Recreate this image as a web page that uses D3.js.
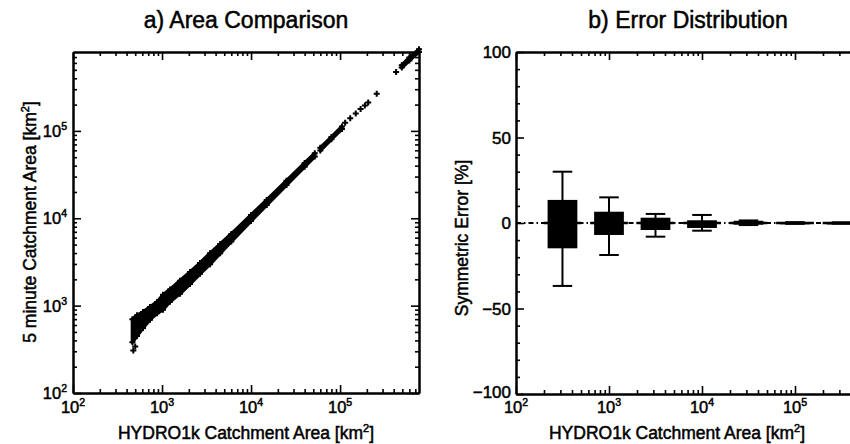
<!DOCTYPE html>
<html>
<head>
<meta charset="UTF-8">
<title>Area Comparison / Error Distribution</title>
<script src="https://d3js.org/d3.v7.min.js"></script>
<style>
    body { margin: 0; background: #fff; }
    svg { display: block; font-family: "Liberation Sans", Arial, sans-serif; }
</style>
</head>
<body>
<script>
    // a) dense scatter band (km2)
    var bandX  = [465, 524, 612, 733, 879, 1026, 1230, 1593, 2063, 2673, 3460, 4500, 6000, 10000, 15000, 25000, 40000, 52000, 56000, 60000, 80000, 105000];
    var bandLo = [380, 450, 555, 690, 820, 900, 1110, 1370, 1770, 2320, 2980, 3980, 5430, 9300, 14200, 24000, 38800, 51000, null, 59500, 80000, 105000];
    var bandHi = [700, 775, 845, 965, 1100, 1330, 1530, 1930, 2430, 3080, 3980, 5070, 6620, 10900, 16200, 26800, 42800, 55500, null, 64000, 85000, 112000];
    var topX   = [493000, 600000, 770000];
    var topLo  = [530000, 640000, 800000];
    var topHi  = [565000, 690000, 860000];
    // a) single crosses
    var ptX = [476, 500, 114000, 130000, 150000, 170000, 190000, 207000, 258000, 426000];
    var ptY = [307, 340, 124000, 140000, 158000, 178000, 195000, 212000, 266000, 472000];

    // b) box plots per area class
    var binArea = [316, 1000, 3162, 10000, 31623, 100000, 316228];
    var q1      = [-14.8, -7.0, -4.1, -2.9, -1.0, -0.4, -0.3];
    var q3      = [13.5, 6.6, 3.1, 1.6, 1.3, 0.4, 0.3];
    var wLo     = [-36.8, -18.7, -8.0, -4.5, -1.2, -0.5, -0.4];
    var wHi     = [30, 15, 5.3, 4.7, 1.5, 0.5, 0.4];
    var median  = [0, 0, 0, 0, 0, 0, 0];

    var decades = [100, 1000, 10000, 100000];
    var decadeExp = ["2", "3", "4", "5"];
    var errTicks = [-100, -50, 0, 50, 100];
    var errLabels = ["\u2212100", "\u221250", "0", "50", "100"];

    var svg = d3.select("body").append("svg").attr("width", 850).attr("height", 444);

    var ax = d3.scaleLog().domain([100, 7.7e5]).range([73, 419]);
    var ay = d3.scaleLog().domain([100, 8e5]).range([393, 52]);
    var bx = d3.scaleLog().domain([100, 5e5]).range([516, 860]);
    var by = d3.scaleLinear().domain([-100, 100]).range([394, 52]);

    function minorLog(dom) {
        var out = [];
        for (var e = 2; e <= 5; e++) {
            for (var k = 2; k <= 9; k++) {
                var v = k * Math.pow(10, e);
                if (v > dom[0] && v < dom[1]) out.push(v);
            }
        }
        return out;
    }

    // four-sided frame with inward ticks
    function frame(xs, ys, xMaj, xMin, yMaj, yMin) {
        var g = svg.append("g");
        var x0 = xs.range()[0], x1 = xs.range()[1];
        var y0 = ys.range()[0], y1 = ys.range()[1];
        var sets = [
            [d3.axisBottom(xs), "translate(0," + y0 + ")", xMaj, xMin],
            [d3.axisTop(xs), "translate(0," + y1 + ")", xMaj, xMin],
            [d3.axisLeft(ys), "translate(" + x0 + ",0)", yMaj, yMin],
            [d3.axisRight(ys), "translate(" + x1 + ",0)", yMaj, yMin]
        ];
        sets.forEach(function (s) {
            g.append("g").attr("transform", s[1])
                .call(s[0].tickValues(s[2]).tickSize(-8).tickSizeOuter(0).tickFormat(""));
            g.append("g").attr("transform", s[1])
                .call(s[0].tickValues(s[3]).tickSize(-4).tickSizeOuter(0).tickFormat(""));
        });
        g.selectAll("path.domain").attr("stroke", "#000").attr("stroke-width", 2);
        g.selectAll(".tick line").attr("stroke", "#000").attr("stroke-width", 1.6);
        return g;
    }

    function powText(sel, e) {
        sel.text("10");
        sel.append("tspan").attr("dy", -7).attr("font-size", 10.5).text(e);
    }

    // ---------- panel a ----------
    frame(ax, ay, decades, minorLog(ax.domain()), decades, minorLog(ay.domain()));

    var clipA = svg.append("clipPath").attr("id", "clipA");
    clipA.append("rect").attr("x", 73).attr("y", 46).attr("width", 352).attr("height", 347);

    var pa = svg.append("g").attr("clip-path", "url(#clipA)");
    var band = bandX.map(function (v, i) { return { x: v, lo: bandLo[i], hi: bandHi[i] }; });
    var bandTop = topX.map(function (v, i) { return { x: v, lo: topLo[i], hi: topHi[i] }; });
    var area = d3.area()
        .defined(function (d) { return d.lo != null; })
        .x(function (d) { return ax(d.x); })
        .y0(function (d) { return ay(d.lo); })
        .y1(function (d) { return ay(d.hi); });
    [band, bandTop].forEach(function (b) {
        pa.append("path").datum(b).attr("d", area)
            .attr("fill", "#000").attr("stroke", "#000").attr("stroke-width", 3.5).attr("stroke-linejoin", "round");
    });

    var plus = "M-3,0H3M0,-3V3";
    var crosses = ptX.map(function (v, i) { return [v, ptY[i]]; });
    band.concat(bandTop).forEach(function (d) {
        if (d.lo != null) { crosses.push([d.x, d.lo]); crosses.push([d.x, d.hi]); }
    });
    pa.selectAll("path.pt").data(crosses).enter().append("path").attr("class", "pt")
        .attr("transform", function (d) { return "translate(" + ax(d[0]) + "," + ay(d[1]) + ")"; })
        .attr("d", plus).attr("stroke", "#000").attr("stroke-width", 2).attr("fill", "none");

    svg.append("g").selectAll("text").data(decades).enter().append("text")
        .attr("x", function (d) { return ax(d); }).attr("y", 413)
        .attr("text-anchor", "middle").attr("font-size", 16.5)
        .each(function (d, i) { powText(d3.select(this), decadeExp[i]); });
    svg.append("g").selectAll("text").data(decades).enter().append("text")
        .attr("x", 67).attr("y", function (d) { return ay(d) + 6; })
        .attr("text-anchor", "end").attr("font-size", 16.5)
        .each(function (d, i) { powText(d3.select(this), decadeExp[i]); });

    svg.append("text").attr("x", 246).attr("y", 28).attr("text-anchor", "middle")
        .attr("font-size", 23).text("a) Area Comparison");
    var xl = svg.append("text").attr("x", 246).attr("y", 439).attr("text-anchor", "middle").attr("font-size", 17.5);
    xl.text("HYDRO1k Catchment Area [km");
    xl.append("tspan").attr("dy", -7).attr("font-size", 11).text("2");
    xl.append("tspan").attr("dy", 7).text("]");
    var yl = svg.append("text").attr("transform", "translate(36,222) rotate(-90)")
        .attr("text-anchor", "middle").attr("font-size", 17.5);
    yl.text("5 minute Catchment Area [km");
    yl.append("tspan").attr("dy", -7).attr("font-size", 11).text("2");
    yl.append("tspan").attr("dy", 7).text("]");

    // ---------- panel b ----------
    var errMinor = d3.range(-90, 100, 10).filter(function (v) { return v % 50 !== 0; });
    frame(bx, by, decades, minorLog(bx.domain()), errTicks, errMinor);

    var pb = svg.append("g");
    pb.append("line").attr("x1", 516).attr("x2", 860).attr("y1", by(0)).attr("y2", by(0))
        .attr("stroke", "#000").attr("stroke-width", 1.8).attr("stroke-dasharray", "5,3,1.5,3");

    var half = 0.16, cap = 0.105;
    function lx(a, d) { return bx(a * Math.pow(10, d)); }
    var boxes = pb.selectAll("g.box").data(binArea).enter().append("g").attr("class", "box");
    boxes.append("line")
        .attr("x1", function (d) { return bx(d); }).attr("x2", function (d) { return bx(d); })
        .attr("y1", function (d, i) { return by(wLo[i]); }).attr("y2", function (d, i) { return by(wHi[i]); })
        .attr("stroke", "#000").attr("stroke-width", 2);
    [wLo, wHi].forEach(function (arr) {
        boxes.append("line")
            .attr("x1", function (d) { return lx(d, -cap); }).attr("x2", function (d) { return lx(d, cap); })
            .attr("y1", function (d, i) { return by(arr[i]); }).attr("y2", function (d, i) { return by(arr[i]); })
            .attr("stroke", "#000").attr("stroke-width", 2);
    });
    boxes.append("rect")
        .attr("x", function (d) { return lx(d, -half); })
        .attr("width", function (d) { return lx(d, half) - lx(d, -half); })
        .attr("y", function (d, i) { return by(q3[i]); })
        .attr("height", function (d, i) { return Math.max(2, by(q1[i]) - by(q3[i])); })
        .attr("fill", "#000");
    boxes.append("line")
        .attr("x1", function (d) { return lx(d, -half) - 4; }).attr("x2", function (d) { return lx(d, half) + 4; })
        .attr("y1", function (d, i) { return by(median[i]); }).attr("y2", function (d, i) { return by(median[i]); })
        .attr("stroke", "#000").attr("stroke-width", 2.5);

    svg.append("g").selectAll("text").data(decades).enter().append("text")
        .attr("x", function (d) { return bx(d); }).attr("y", 413)
        .attr("text-anchor", "middle").attr("font-size", 16.5)
        .each(function (d, i) { powText(d3.select(this), decadeExp[i]); });
    svg.append("g").selectAll("text").data(errTicks).enter().append("text")
        .attr("x", 511).attr("y", function (d) { return by(d) + (d === -100 ? 4 : 6); })
        .attr("text-anchor", "end").attr("font-size", 17)
        .text(function (d, i) { return errLabels[i]; });

    svg.append("text").attr("x", 688).attr("y", 28).attr("text-anchor", "middle")
        .attr("font-size", 23).text("b) Error Distribution");
    var xl2 = svg.append("text").attr("x", 677).attr("y", 439).attr("text-anchor", "middle").attr("font-size", 17.5);
    xl2.text("HYDRO1k Catchment Area [km");
    xl2.append("tspan").attr("dy", -7).attr("font-size", 11).text("2");
    xl2.append("tspan").attr("dy", 7).text("]");
    svg.append("text").attr("transform", "translate(468,238) rotate(-90)")
        .attr("text-anchor", "middle").attr("font-size", 17.5).text("Symmetric Error [%]");

    svg.selectAll("text").attr("fill", "#000").attr("stroke", "#000").attr("stroke-width", 0.5);
</script>
</body>
</html>
